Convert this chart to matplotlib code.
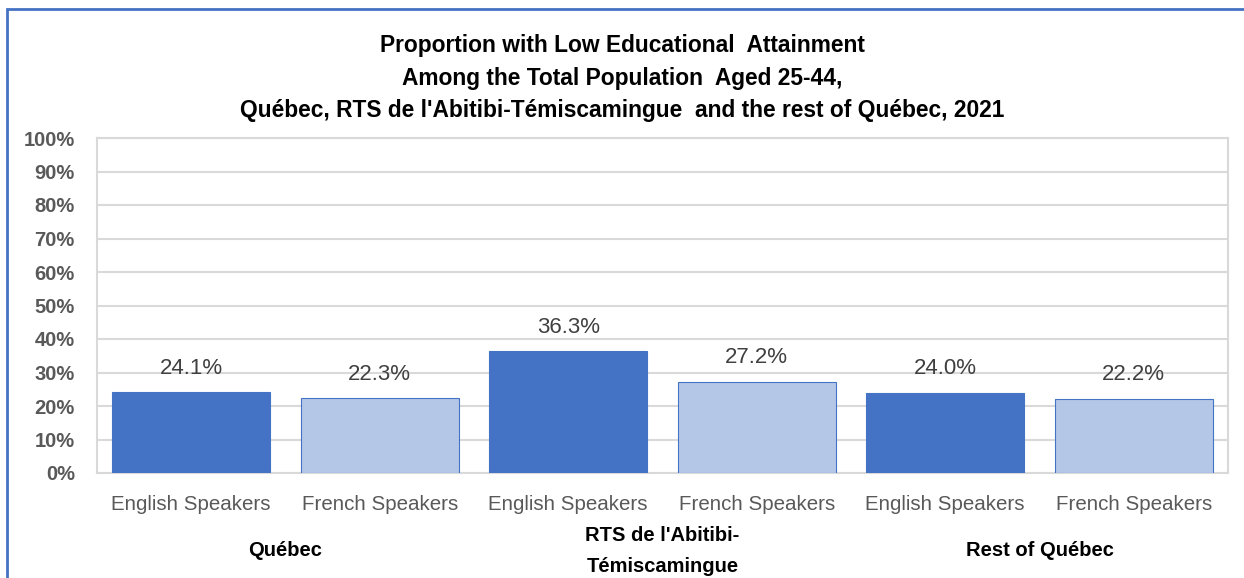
import matplotlib.pyplot as plt
import matplotlib.transforms as mtransforms
import numpy as np

groups = ['Québec', "RTS de l'Abitibi-\nTémiscamingue", 'Rest of Québec']
speakers = ['English Speakers', 'French Speakers']
values = [24.1, 22.3, 36.3, 27.2, 24.0, 22.2]
yticks = [0, 10, 20, 30, 40, 50, 60, 70, 80, 90, 100]

plt.rcParams['font.family'] = ['Liberation Sans', 'DejaVu Sans']

fig = plt.figure(figsize=(12.44, 5.78), dpi=100)
ax = fig.add_axes([97 / 1244, 1 - 473 / 578, (1228 - 97) / 1244, (473 - 138) / 578])

x = np.arange(len(values))
colors = ['#4472C4', '#B4C7E7'] * 3
bars = ax.bar(x, values, width=0.84, color=colors, edgecolor='#4472C4', linewidth=0.8, zorder=3)

for b, v in zip(bars, values):
    ax.text(b.get_x() + b.get_width() / 2, v + 4.0, f'{v:.1f}%', ha='center', va='bottom',
            fontsize=16, color='#404040')

ax.set_xlim(-0.5, len(values) - 0.5)
ax.set_ylim(0, 100)
ax.set_yticks(yticks)
ax.set_yticklabels([f'{t}%' for t in yticks], fontsize=14.5, fontweight='bold', color='#595959')
ax.set_xticks(x)
ax.set_xticklabels(speakers * 3, fontsize=14.8, color='#595959')
ax.tick_params(axis='both', length=0)
ax.tick_params(axis='x', pad=16)
ax.tick_params(axis='y', pad=16)
ax.yaxis.grid(True, color='#D9D9D9', linewidth=1.5, zorder=0)
for s in ax.spines.values():
    s.set_color('#D9D9D9')
    s.set_linewidth(1.5)

trans = mtransforms.blended_transform_factory(ax.transData, fig.transFigure)
for i, g in enumerate(groups):
    cx = (x[2 * i] + x[2 * i + 1]) / 2
    ax.text(cx, 1 - 551 / 578, g, transform=trans, ha='center', va='center',
            fontsize=14.5, fontweight='bold', color='black', linespacing=1.85)

fig.text(0.5, 1 - 78 / 578,
         "Proportion with Low Educational  Attainment\nAmong the Total Population  Aged 25-44,\n"
         "Québec, RTS de l'Abitibi-Témiscamingue  and the rest of Québec, 2021",
         ha='center', va='center', fontsize=16.4, fontweight='bold', color='black', linespacing=1.55)

fig.add_artist(plt.Rectangle((7.5 / 1244, -0.1), 1.2, 0.1 + 1 - 9 / 578, transform=fig.transFigure,
                             fill=False, edgecolor='#4472C4', linewidth=2))

fig.savefig('out.png', dpi=100)
